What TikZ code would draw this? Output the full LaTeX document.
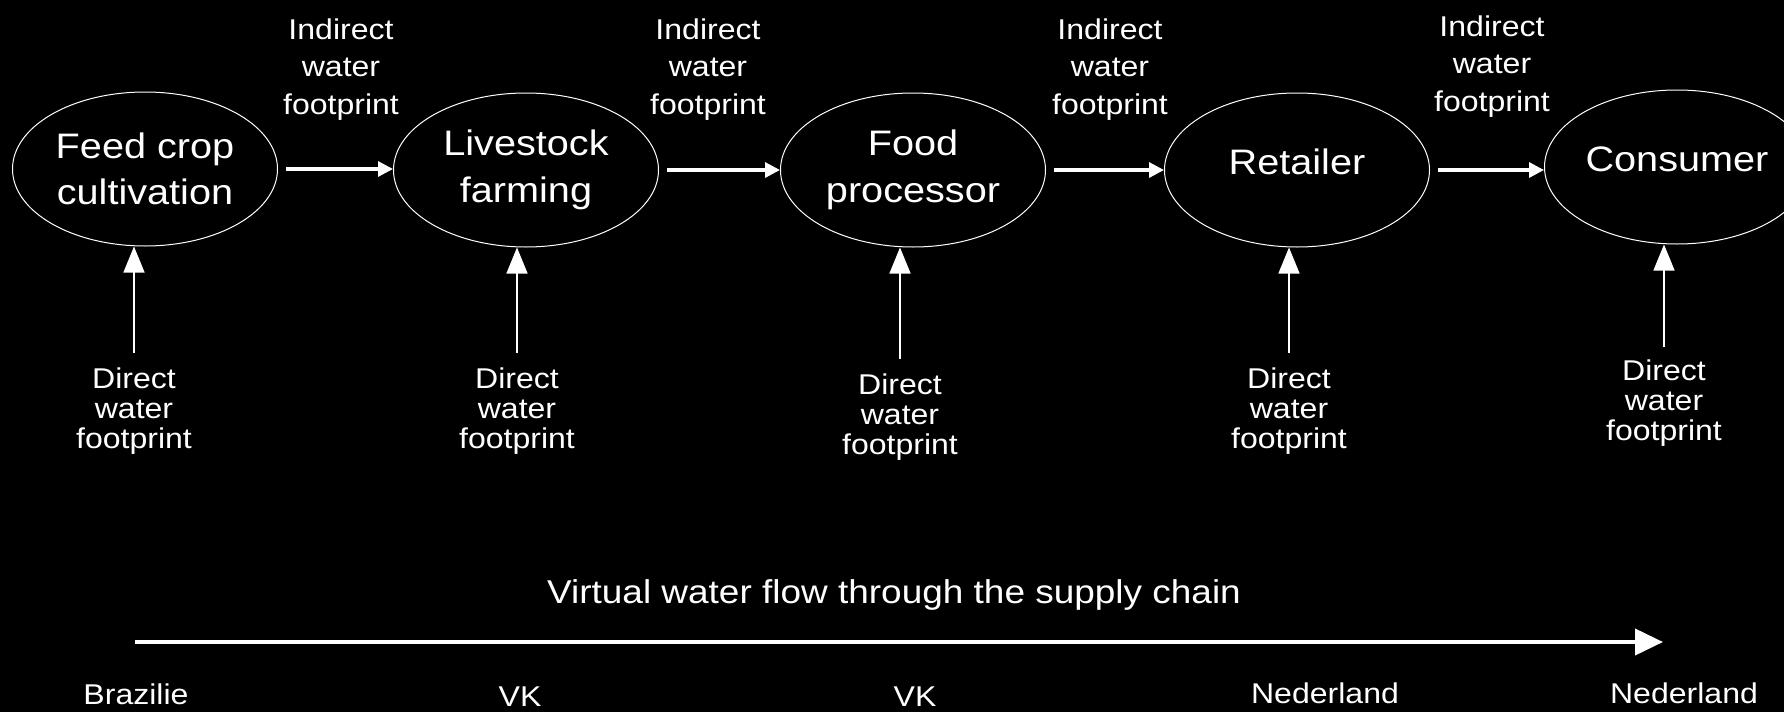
\documentclass[tikz,border=0pt]{standalone}
\usepackage{fontspec}
\setmainfont{Liberation Sans}[FakeStretch=1.12]
\usetikzlibrary{shapes.geometric,arrows.meta}

\begin{document}
\begin{tikzpicture}[x=0.5pt,y=-0.5pt,white,
    stage/.style={draw=white,line width=0.5pt,ellipse,minimum width=132.5pt,minimum height=77pt,inner sep=0pt,align=center,font=\fontsize{17.7}{23.3}\selectfont},
    indirect/.style={anchor=north,inner sep=0pt,align=center,font=\fontsize{14.3}{18.75}\selectfont},
    direct/.style={anchor=north,inner sep=0pt,align=center,font=\fontsize{14.3}{15}\selectfont},
    country/.style={anchor=base,inner sep=0pt,font=\fontsize{14.3}{17}\selectfont},
    handover/.style={line width=1.6pt,-{Triangle[length=7.5pt,width=7.5pt]}},
    intake/.style={line width=0.65pt,-{Triangle[length=13pt,width=10.5pt]}},
    flowline/.style={line width=2pt,-{Triangle[length=14pt,width=13pt]}}]
    \useasboundingbox (0,0) rectangle (1784,712);
    \clip (0,0) rectangle (1784,712);
    \fill [black] (0,0) rectangle (1784,712);

    \node [stage] (feed) at (145,169) {Feed crop\\cultivation};
    \node [stage] (livestock) at (526,170) {Livestock\\farming};
    \node [stage] (processor) at (913,170) {Food\\processor};
    \node [stage,text depth=8pt] (retailer) at (1297,170) {Retailer};
    \node [stage,text depth=8pt] (consumer) at (1677,167) {Consumer};

    \node [indirect] (ifeed) at (341,18) {Indirect\\water\\footprint};
    \node [indirect] (ilivestock) at (708,18) {Indirect\\water\\footprint};
    \node [indirect] (iprocessor) at (1110,18) {Indirect\\water\\footprint};
    \node [indirect] (iretailer) at (1492,15) {Indirect\\water\\footprint};
    \draw [handover] ([xshift=4pt]feed.east) -- (livestock.west |- feed.east);
    \draw [handover] ([xshift=4pt]livestock.east) -- (processor.west |- livestock.east);
    \draw [handover] ([xshift=4pt]processor.east) -- (retailer.west |- processor.east);
    \draw [handover] ([xshift=4pt]retailer.east) -- (consumer.west |- retailer.east);

    \node [direct] (dfeed) at (134,367) {Direct\\water\\footprint};
    \node [direct] (dlivestock) at (517,367) {Direct\\water\\footprint};
    \node [direct] (dprocessor) at (900,373) {Direct\\water\\footprint};
    \node [direct] (dretailer) at (1289,367) {Direct\\water\\footprint};
    \node [direct] (dconsumer) at (1664,359) {Direct\\water\\footprint};
    \draw [intake] ([yshift=7pt]dfeed.north) -- (dfeed.north |- feed.south);
    \draw [intake] ([yshift=7pt]dlivestock.north) -- (dlivestock.north |- livestock.south);
    \draw [intake] ([yshift=7pt]dprocessor.north) -- (dprocessor.north |- processor.south);
    \draw [intake] ([yshift=7pt]dretailer.north) -- (dretailer.north |- retailer.south);
    \draw [intake] ([yshift=6pt]dconsumer.north) -- (dconsumer.north |- consumer.south);

    \node [anchor=base,inner sep=0pt,font=\fontsize{16.5}{20}\selectfont] (virtual) at (894,603) {Virtual water flow through the supply chain};
    \coordinate (flowstart) at (135,642);
    \coordinate (flowend) at (1663,642);
    \draw [flowline] (flowstart) -- (flowend);

    \node [country] (brazil) at (136,704) {Brazilie};
    \node [country] (uk1) at (520,706) {VK};
    \node [country] (uk2) at (915,706) {VK};
    \node [country] (nl1) at (1325,703) {Nederland};
    \node [country] (nl2) at (1684,703) {Nederland};
\end{tikzpicture}
\end{document}
